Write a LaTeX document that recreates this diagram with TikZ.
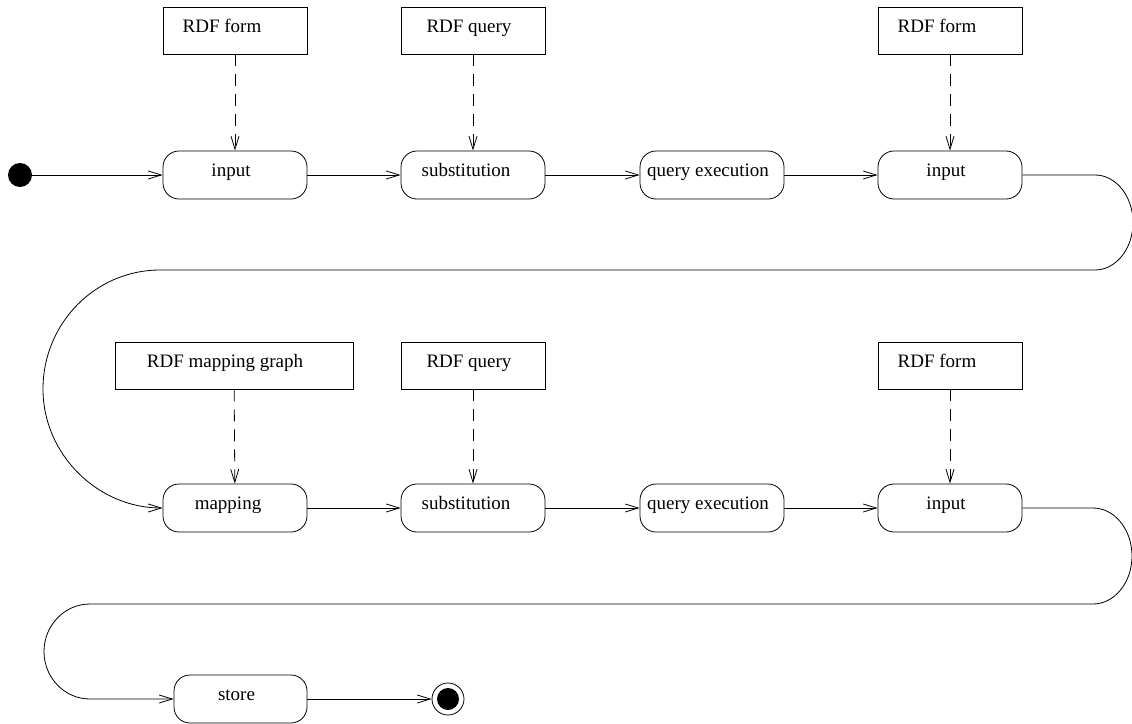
\documentclass[tikz,border=0pt]{standalone}
\usepackage{fontspec}
\setmainfont{Liberation Serif}
\usetikzlibrary{arrows.meta}
\begin{document}
\begin{tikzpicture}[x=1pt,y=-1pt,
  every node/.style={font=\fontsize{19}{22}\selectfont},
  tsh/.style={execute at end node={\kern#1}},
  act/.style={draw, rounded corners=16pt, minimum width=144pt, minimum height=48pt,
    inner sep=0pt, text height=25pt, text depth=23pt, line width=0.8pt, tsh=8pt},
  obj/.style={draw, minimum width=144pt, minimum height=47pt,
    inner sep=0pt, text height=25pt, text depth=22pt, line width=0.8pt, tsh=8pt},
  flow/.style={line width=0.8pt, -{Straight Barb[length=13pt,width=8pt]}},
  dep/.style={flow, dash pattern=on 12pt off 8pt},
]
\useasboundingbox (0,0) rectangle (1132,723);

% first row: artefacts
\node[obj, tsh=18pt] (f1) at (235,30.5) {RDF form};
\node[obj] (q1) at (473,30.5) {RDF query};
\node[obj, tsh=18pt] (f2) at (950,30.5) {RDF form};

% first row: activities
\node[circle, fill, inner sep=0pt, minimum size=24pt] (init) at (20,175) {};
\node[act] (in1) at (235,175) {input};
\node[act, tsh=6pt] (sub1) at (473,175) {substitution};
\node[act] (qe1) at (712,175) {query execution};
\node[act] (in2) at (950,175) {input};

% second row: artefacts
\node[obj, minimum width=238pt, tsh=10pt] (mg) at (234,365.5) {RDF mapping graph};
\node[obj] (q2) at (473,365.5) {RDF query};
\node[obj, tsh=18pt] (f3) at (950,365.5) {RDF form};

% second row: activities
\node[act, tsh=6pt] (map) at (235,508) {mapping};
\node[act, tsh=6pt] (sub2) at (473,508) {substitution};
\node[act] (qe2) at (712,508) {query execution};
\node[act] (in3) at (950,508) {input};

% last row
\node[act, minimum width=133pt, tsh=0pt] (st) at (240.5,699) {store};
\node[circle, draw, line width=0.8pt, inner sep=0pt, minimum size=32pt] (fin) at (448,699) {};
\fill (fin.center) circle (11pt);

% artefact dependencies
\draw[dep] (f1) -- (in1);
\draw[dep] (q1) -- (sub1);
\draw[dep] (f2) -- (in2);
\draw[dep] (mg) -- (map);
\draw[dep] (q2) -- (sub2);
\draw[dep] (f3) -- (in3);

% control flow
\draw[flow] (init) -- (in1);
\draw[flow] (in1) -- (sub1);
\draw[flow] (sub1) -- (qe1);
\draw[flow] (qe1) -- (in2);
\draw[flow] (in2.east) -- (1095,175)
  .. controls (1116,175) and (1133,196.3) .. (1133,222.5)
  .. controls (1133,248.7) and (1116,270) .. (1095,270)
  -- (160,270)
  .. controls (95.4,270) and (43,323.3) .. (43,389)
  .. controls (43,454.7) and (98,508) .. (map.west);
\draw[flow] (map) -- (sub2);
\draw[flow] (sub2) -- (qe2);
\draw[flow] (qe2) -- (in3);
\draw[flow] (in3.east) -- (1093,508)
  .. controls (1114.5,508) and (1132,529.5) .. (1132,556)
  .. controls (1132,582.5) and (1114.5,604) .. (1093,604)
  -- (90,604)
  .. controls (64.6,604) and (44,625.3) .. (44,651.5)
  .. controls (44,677.7) and (64.6,699) .. (90,699)
  -- (st.west);
\draw[flow] (st) -- (fin);
\end{tikzpicture}
\end{document}
